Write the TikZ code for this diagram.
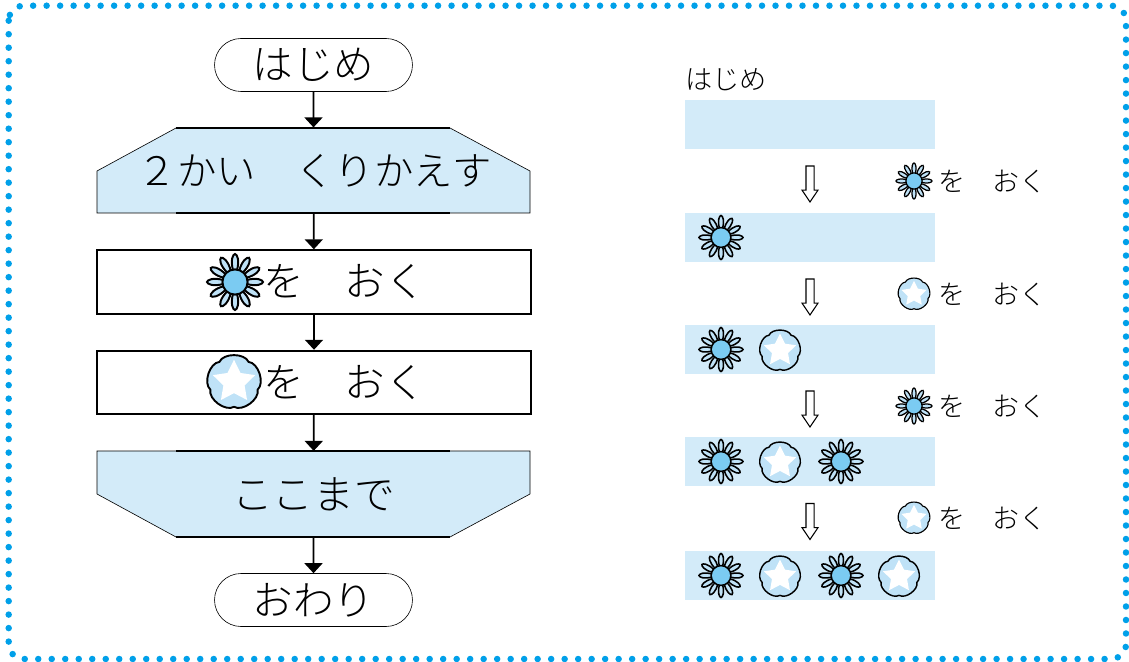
\documentclass[tikz,border=0pt]{standalone}
\usepackage{fontspec}
\setmainfont{Noto Sans CJK JP Light}
\usepackage{tikz}
\usetikzlibrary{arrows.meta,shapes.misc,shapes.geometric,shapes.arrows}
\definecolor{pale}{HTML}{D3EBF9}
\definecolor{petal}{HTML}{BFE2F7}
\definecolor{disc}{HTML}{7BCBF2}
\definecolor{dots}{HTML}{00A0E9}
\tikzstyle{terminal}=[rounded rectangle, draw, line width=0.35pt, inner sep=0pt, minimum width=3.96cm, minimum height=1.06cm, font=\fontsize{23.1pt}{26pt}\selectfont]
\tikzstyle{process}=[rectangle, draw, line width=1.1pt, inner sep=0pt, minimum width=8.68cm, minimum height=1.27cm, font=\fontsize{23.1pt}{26pt}\selectfont]
\tikzstyle{loopbox}=[rectangle, inner sep=0pt, minimum width=8.66cm, minimum height=1.71cm, font=\fontsize{23.1pt}{26pt}\selectfont]
\tikzstyle{edgeline}=[draw=black, fill=pale, line width=0.35pt]
\tikzstyle{strip}=[rectangle, fill=pale, inner sep=0pt, minimum width=5cm, minimum height=0.98cm]
\tikzstyle{side}=[inner sep=0pt, anchor=west, font=\fontsize{15.4pt}{17pt}\selectfont]
\tikzstyle{down}=[single arrow, draw, line width=0.6pt, fill=white, inner sep=0.07cm, minimum width=0.3cm, minimum height=0.72cm, single arrow head extend=0.08cm, single arrow tip angle=68, shape border rotate=270]
\tikzstyle{flow}=[line width=1pt, -{Triangle[width=0.36cm, length=0.2cm]}]
\tikzstyle{heavy}=[line width=0.95pt]
\tikzset{
	pics/sunflower/.style={code={
		\foreach \a in {0,30,...,330}
			\draw[fill=petal, line width={0.04*#1 pt}] ({\a-9}:{0.4*#1}) .. controls ({\a-13}:{0.8*#1}) and ({\a-4}:{#1}) .. ({\a}:{#1}) .. controls ({\a+4}:{#1}) and ({\a+13}:{0.8*#1}) .. ({\a+9}:{0.4*#1});
		\draw[fill=disc, line width={0.04*#1 pt}] (0,0) circle ({0.45*#1});
	}},
	pics/glory/.style={code={
		\draw[fill=petal, line width={0.04*#1 pt}] (90:{0.92*#1})
			\foreach \a in {90,162,234,306,378} { .. controls ({\a+16}:{1.15*#1}) and ({\a+56}:{1.15*#1}) .. ({\a+72}:{0.92*#1}) } -- cycle;
		\node (-star) at (0,0) [star, star points=5, star point ratio=2.0, fill=white, inner sep=0pt, minimum size={0.033*#1 cm}] {};
	}}
}
\newcommand{\flowlabel}[1]{\hspace*{1.22cm}#1}

\begin{document}
\begin{tikzpicture}[x=0.02cm, y=-0.02cm]
	\useasboundingbox (0,0) rectangle (1129,662);
	%% the dotted frame
	\draw[dots, line width=3.7pt, line cap=round, dash pattern=on 0pt off 0.27cm, rounded corners=0.3cm] (8.7,5.7) rectangle (1126,659);

	%% the two cut boxes
	\draw[edgeline] (97,171) -- (176,128) -- (450,128) -- (530,171) -- (530,213) -- (97,213) -- cycle;
	\draw[edgeline] (97,451) -- (530,451) -- (530,494) -- (450,537) -- (176,537) -- (97,494) -- cycle;

	%% the flowchart
	\node[terminal] (start) at (313.5,65) {はじめ};
	\node[loopbox] (repeat) at (313.5,170.5) {\fontsize{22.4pt}{26pt}\selectfont\hspace*{0.06cm}２かい　くりかえす};
	\node[process] (place1) at (314,282) {\flowlabel{を　おく}};
	\node[process] (place2) at (314,382.5) {\flowlabel{を　おく}};
	\node[loopbox] (until) at (313.5,494) {ここまで};
	\node[terminal] (finish) at (313.5,600) {おわり};
	\pic (sun0) at (235,282) {sunflower=28};
	\pic (glory0) at (234,382) {glory=27};
	%% heavier middle of the flat edges
	\draw[heavy] (255,38.5) -- (372,38.5) (255,91.5) -- (372,91.5);
	\draw[heavy] (176,128) -- (450,128) (176,213) -- (450,213);
	\draw[heavy] (176,451) -- (450,451) (176,537) -- (450,537);
	\draw[heavy] (255,573.5) -- (372,573.5) (255,626.5) -- (372,626.5);

	%% for the edges
	\path[draw=none]
		(start) edge[flow] (repeat)
		(repeat) edge[flow] (place1)
		(place1) edge[flow] (place2)
		(place2) edge[flow] (until)
		(until) edge[flow] (finish)
		;

	%% the row of pictures
	\node (title) at (685,79.5) [anchor=west, inner sep=0pt, font=\fontsize{15.5pt}{17pt}\selectfont] {はじめ};
	\node[strip] (row0) at (810,124.5) {};
	\node[strip] (row1) at (810,237.5) {};
	\node[strip] (row2) at (810,349.5) {};
	\node[strip] (row3) at (810,461.5) {};
	\node[strip] (row4) at (810,575.5) {};
	\node[down] (down1) at (810,181) {};
	\node[down] (down2) at (810,294) {};
	\node[down] (down3) at (810,406) {};
	\node[down] (down4) at (810,518.5) {};
	\node[side] (say1) at (938,182) {を　おく};
	\node[side] (say2) at (938,295) {を　おく};
	\node[side] (say3) at (938,407) {を　おく};
	\node[side] (say4) at (938,519) {を　おく};
	\pic (sunA) at (914,181) {sunflower=18};
	\pic (gloryA) at (914,294) {glory=16};
	\pic (sunB) at (914,406) {sunflower=18};
	\pic (gloryB) at (914,518) {glory=16};
	\pic (sun1) at (721,237.5) {sunflower=22};
	\pic (sun2) at (721,349.5) {sunflower=22};
	\pic (glory2) at (780,350.5) {glory=20.5};
	\pic (sun3) at (721,461.5) {sunflower=22};
	\pic (glory3) at (780,462.5) {glory=20.5};
	\pic (sun4) at (841,461.5) {sunflower=22};
	\pic (sun5) at (721,575.5) {sunflower=22};
	\pic (glory5) at (780,576.5) {glory=20.5};
	\pic (sun6) at (841,575.5) {sunflower=22};
	\pic (glory6) at (899,576.5) {glory=20.5};
\end{tikzpicture}
\end{document}
